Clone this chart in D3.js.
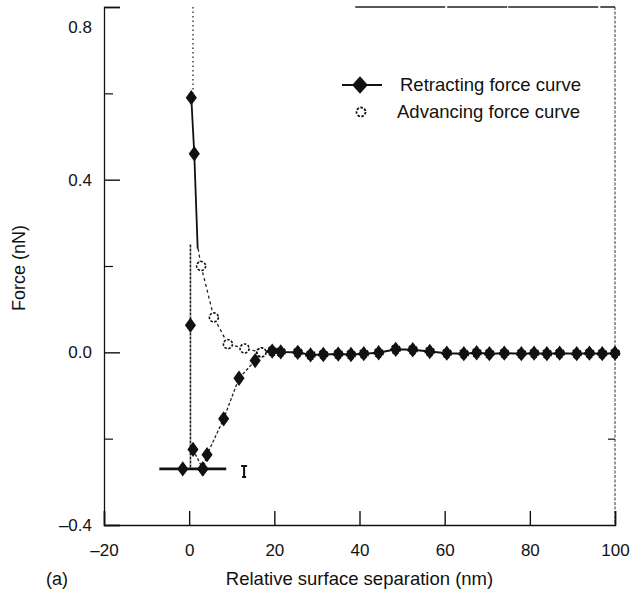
<!DOCTYPE html>
<html>
<head>
<meta charset="utf-8">
<script src="https://cdn.jsdelivr.net/npm/d3@7"></script>
<style>
  body { margin: 0; background: #fff; }
  text { font-family: "Liberation Sans", Arial, sans-serif; fill: #111; }
</style>
</head>
<body>
<div id="chart-area"></div>
<script>
/*
*    force curves, separation vs force
*/

const WIDTH = 632
const HEIGHT = 593

// flat part, both curves sit here (nm, nN)
const flatSep = [17, 19.5, 21.5, 25.5, 28.5, 31.5, 35, 38, 41, 44.5, 48.5, 52.5, 56.5, 60.5, 64.5, 67.5, 70.5, 74, 78, 81, 84, 87, 91, 94, 97, 100]
const flatForce = [0.0, 0.003, 0.001, 0.0, -0.006, -0.005, -0.004, -0.005, -0.003, -0.001, 0.007, 0.006, 0.002, -0.002, -0.003, -0.001, -0.003, -0.002, -0.003, -0.002, -0.003, -0.002, -0.003, -0.002, -0.003, -0.002]

// retracting: contact part
const retTopSep = [0.5, 1.2, 2.0]
const retTopForce = [0.59, 0.46, 0.24]

// retracting: adhesion branch
const retPullSep = [0.9, 3.2, 4.2, 8.1, 11.7, 15.5, 17]
const retPullForce = [-0.225, -0.27, -0.237, -0.154, -0.06, -0.019, 0.0]

// pull-off level line
const pullOffSep = [-7, -1.5, 3.2, 8.7]
const pullOffForce = [-0.27, -0.27, -0.27, -0.27]

// jump-in line at contact
const jumpSep = [0.3, 0.3, 0.3]
const jumpForce = [0.25, 0.063, -0.27]

// advancing curve
const advSep = [2.1, 2.8, 5.8, 9.1, 13, 16.9]
const advForce = [0.24, 0.2, 0.081, 0.019, 0.009, 0.0]

const xTicks = [-20, 0, 20, 40, 60, 80, 100]
const yTicks = [0.8, 0.4, 0.0, -0.4]
const yMinor = [0.6, 0.2, -0.2]

const zip = (a, b) => a.map((v, i) => [v, b[i]])

const svg = d3.select("#chart-area").append("svg")
  .attr("width", WIDTH)
  .attr("height", HEIGHT)

const x = d3.scaleLinear().domain([-20, 100]).range([104, 615])
const y = d3.scaleLinear().domain([-0.4, 0.8]).range([525, 7])

const line = d3.line().x(d => x(d[0])).y(d => y(d[1]))

// frame
svg.append("line")
  .attr("x1", x(100)).attr("x2", x(100)).attr("y1", y(0.8)).attr("y2", y(-0.4))
  .attr("stroke", "#333").attr("stroke-width", 1).attr("stroke-dasharray", "3,1.5")
svg.append("line")
  .attr("x1", x(39)).attr("x2", x(100)).attr("y1", y(0.8)).attr("y2", y(0.8))
  .attr("stroke", "#222").attr("stroke-width", 1.5).attr("stroke-dasharray", "90,2,60,1")

// X axis
const xAxisGroup = svg.append("g")
  .attr("transform", `translate(0, ${y(-0.4)})`)
  .call(d3.axisBottom(x).tickValues(xTicks).tickSize(-14).tickPadding(19)
    .tickFormat(d => d < 0 ? "\u2013" + Math.abs(d) : d))
xAxisGroup.select(".domain").attr("stroke", "#111").attr("stroke-width", 1.5)
xAxisGroup.selectAll(".tick line").attr("stroke", "#111").attr("stroke-width", 1.4)
xAxisGroup.selectAll("text").attr("font-size", "17px").attr("fill", "#111")

// Y axis
const yAxisGroup = svg.append("g")
  .attr("transform", `translate(${x(-20)}, 0)`)
  .call(d3.axisLeft(y).tickValues(yTicks).tickSize(-16).tickPadding(12)
    .tickFormat(d => d < 0 ? "\u2013" + Math.abs(d).toFixed(1) : d.toFixed(1)))
yAxisGroup.select(".domain").attr("stroke", "#111").attr("stroke-width", 1.3)
yAxisGroup.selectAll(".tick line").attr("stroke", "#111").attr("stroke-width", 1.4)
yAxisGroup.selectAll("text").attr("font-size", "17px").attr("fill", "#111")
// top label sits a bit lower in the original
yAxisGroup.selectAll(".tick").filter(d => d === 0.8).select("text").attr("dy", "1.5em")

svg.append("g")
  .attr("transform", `translate(${x(-20)}, 0)`)
  .call(d3.axisLeft(y).tickValues(yMinor).tickSize(-9).tickFormat(""))
  .call(g => g.select(".domain").remove())
  .selectAll("line").attr("stroke", "#111").attr("stroke-width", 1.2)

svg.append("g")
  .attr("transform", `translate(${x(100)}, 0)`)
  .call(d3.axisRight(y).tickValues([-0.2]).tickSize(-7).tickFormat(""))
  .call(g => g.select(".domain").remove())
  .selectAll("line").attr("stroke", "#111").attr("stroke-width", 1.2)

// labels
svg.append("text")
  .attr("x", x(40)).attr("y", 585)
  .attr("font-size", "18.5px").attr("text-anchor", "middle")
  .text("Relative surface separation (nm)")

svg.append("text")
  .attr("x", 46).attr("y", 585)
  .attr("font-size", "18px")
  .text("(a)")

svg.append("text")
  .attr("transform", `translate(25, ${y(0.2) + 2}) rotate(-90)`)
  .attr("font-size", "18px").attr("text-anchor", "middle")
  .text("Force (nN)")

// curves
const plot = svg.append("g")

// dotted compliance line above contact
plot.append("path")
  .datum([[0.9, 0.8], [0.9, 0.6]])
  .attr("d", line).attr("fill", "none")
  .attr("stroke", "#222").attr("stroke-width", 1.3).attr("stroke-dasharray", "1.5,3")

plot.append("path")
  .datum(zip(jumpSep, jumpForce))
  .attr("d", line).attr("fill", "none")
  .attr("stroke", "#222").attr("stroke-width", 1.6).attr("stroke-dasharray", "3,1")

plot.append("path")
  .datum(zip(advSep, advForce))
  .attr("d", line).attr("fill", "none")
  .attr("stroke", "#222").attr("stroke-width", 1.3).attr("stroke-dasharray", "3,3")

plot.append("path")
  .datum(zip(retPullSep, retPullForce))
  .attr("d", line).attr("fill", "none")
  .attr("stroke", "#222").attr("stroke-width", 1.3).attr("stroke-dasharray", "3,2")

plot.append("path")
  .datum(zip(retTopSep, retTopForce))
  .attr("d", line).attr("fill", "none")
  .attr("stroke", "#111").attr("stroke-width", 1.8)

plot.append("path")
  .datum(zip(pullOffSep, pullOffForce))
  .attr("d", line).attr("fill", "none")
  .attr("stroke", "#111").attr("stroke-width", 2.6)

plot.append("path")
  .datum(zip(flatSep, flatForce))
  .attr("d", line).attr("fill", "none")
  .attr("stroke", "#111").attr("stroke-width", 2)

// small error mark
const errSep = [12.9]
const errForce = [-0.275]
plot.selectAll(".err").data(zip(errSep, errForce)).enter().append("path")
  .attr("class", "err")
  .attr("d", d => `M${x(d[0]) - 3},${y(d[1]) - 5}h6M${x(d[0])},${y(d[1]) - 5}v11M${x(d[0]) - 2},${y(d[1]) + 6}h4`)
  .attr("stroke", "#111").attr("stroke-width", 2).attr("fill", "none")

// open circles (advancing), then filled diamonds on top
plot.selectAll(".adv").data(zip(advSep, advForce).slice(1).concat(zip(flatSep, flatForce)))
  .enter().append("circle")
  .attr("class", "adv")
  .attr("cx", d => x(d[0])).attr("cy", d => y(d[1])).attr("r", 4.5)
  .attr("fill", "#fff").attr("stroke", "#111").attr("stroke-width", 1.6)
  .attr("stroke-dasharray", "2.5,1.5")

const diamond = d3.symbol().type(d3.symbolDiamond).size(75)
const filledPts = zip(retTopSep, retTopForce).slice(0, 2)
  .concat(zip(retPullSep, retPullForce).slice(0, 6))
  .concat([[jumpSep[1], jumpForce[1]]])
  .concat(zip(pullOffSep, pullOffForce).slice(1, 3))
  .concat(zip(flatSep, flatForce).slice(1))

plot.selectAll(".ret").data(filledPts)
  .enter().append("path")
  .attr("class", "ret")
  .attr("d", diamond)
  .attr("transform", d => `translate(${x(d[0])}, ${y(d[1])}) scale(1.2, 0.95)`)
  .attr("fill", "#111")

// legend
const legend = svg.append("g").attr("transform", "translate(342, 85)")
legend.append("line")
  .attr("x1", 0).attr("x2", 40).attr("y1", 0).attr("y2", 0)
  .attr("stroke", "#111").attr("stroke-width", 2.2)
legend.append("path")
  .attr("d", d3.symbol().type(d3.symbolDiamond).size(110))
  .attr("transform", "translate(18, 0) scale(1.4, 0.9)")
  .attr("fill", "#111")
legend.append("text")
  .attr("x", 58).attr("y", 6).attr("font-size", "18.5px")
  .text("Retracting force curve")
legend.append("circle")
  .attr("cx", 19).attr("cy", 27).attr("r", 4.5)
  .attr("fill", "#fff").attr("stroke", "#111").attr("stroke-width", 1.8)
  .attr("stroke-dasharray", "2.5,1.5")
legend.append("text")
  .attr("x", 55).attr("y", 33).attr("font-size", "18.5px")
  .text("Advancing force curve")
</script>
</body>
</html>
